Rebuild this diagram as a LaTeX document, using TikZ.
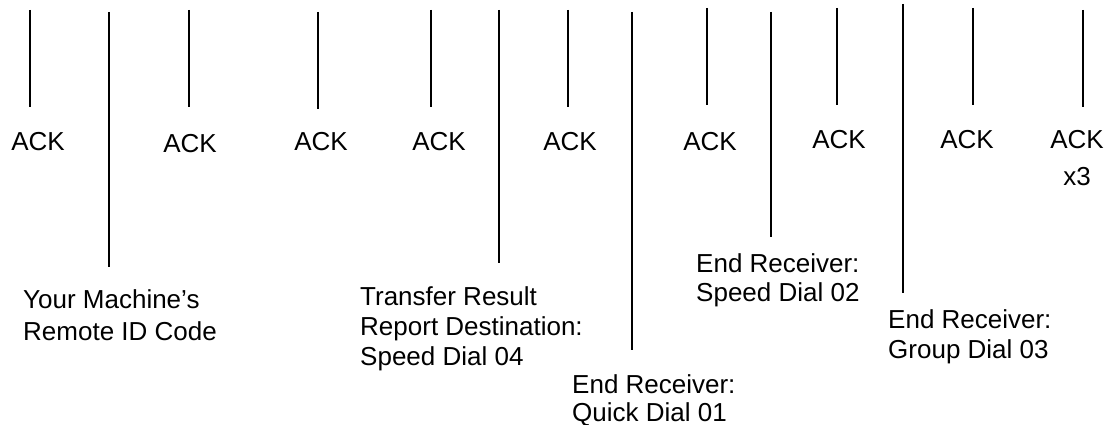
\documentclass[tikz,border=0pt]{standalone}
\usepackage{fontspec}
\setmainfont{Liberation Sans}
\begin{document}
\begin{tikzpicture}[x=1pt,y=-1pt,
  tick/.style={line width=2.9pt},
  thintick/.style={line width=1.5pt},
  ack/.style={inner sep=0pt,anchor=base,font=\fontsize{26}{30}\selectfont},
  lbl/.style={inner sep=0pt,anchor=base west,align=left,font=\fontsize{26}{30}\selectfont}]
\useasboundingbox (0,0) rectangle (1110,425);
% line end points
\coordinate (t1) at (30,10);   \coordinate (b1) at (30,107);
\coordinate (t2) at (109,12);  \coordinate (b2) at (109,267);
\coordinate (t3) at (189,10);  \coordinate (b3) at (189,107);
\coordinate (t4) at (318,12);  \coordinate (b4) at (318,109);
\coordinate (t5) at (431,10);  \coordinate (b5) at (431,107);
\coordinate (t6) at (499,10);  \coordinate (b6) at (499,263);
\coordinate (t7) at (568,10);  \coordinate (b7) at (568,107);
\coordinate (t8) at (632,12);  \coordinate (b8) at (632,350);
\coordinate (t9) at (707,8);   \coordinate (b9) at (707,105);
\coordinate (t10) at (771,12); \coordinate (b10) at (771,237);
\coordinate (t11) at (837,8);  \coordinate (b11) at (837,105);
\coordinate (t12) at (903,4);  \coordinate (b12) at (903,293);
\coordinate (t13) at (973,8);  \coordinate (b13) at (973,105);
\coordinate (t14) at (1083,10);\coordinate (b14) at (1083,107);
\draw[tick] (t1) -- (b1);
\draw[thintick] (t2) -- (b2);
\draw[tick] (t3) -- (b3);
\draw[tick] (t4) -- (b4);
\draw[tick] (t5) -- (b5);
\draw[tick] (t6) -- (b6);
\draw[tick] (t7) -- (b7);
\draw[tick] (t8) -- (b8);
\draw[tick] (t9) -- (b9);
\draw[tick] (t10) -- (b10);
\draw[tick] (t11) -- (b11);
\draw[tick] (t12) -- (b12);
\draw[tick] (t13) -- (b13);
\draw[tick] (t14) -- (b14);
% ACK labels
\node[ack] (a1) at (38,150) {ACK};
\node[ack] (a2) at (190,152) {ACK};
\node[ack] (a3) at (321,150) {ACK};
\node[ack] (a4) at (439,150) {ACK};
\node[ack] (a5) at (570,150) {ACK};
\node[ack] (a6) at (710,150) {ACK};
\node[ack] (a7) at (839,148) {ACK};
\node[ack] (a8) at (967,148) {ACK};
\node[ack,align=center,font=\fontsize{26}{37}\selectfont] (a9) at (1077,185) {ACK\\x3};
% descriptive labels (base anchor = last line)
\node[lbl,font=\fontsize{26}{32}\selectfont] (l1) at (23,340) {Your Machine’s\\Remote ID Code};
\node[lbl] (l2) at (360,365) {Transfer Result\\Report Destination:\\Speed Dial 04};
\node[lbl,font=\fontsize{26}{28}\selectfont] (l3) at (572,421) {End Receiver:\\Quick Dial 01};
\node[lbl,font=\fontsize{26}{29}\selectfont] (l4) at (696,301) {End Receiver:\\Speed Dial 02};
\node[lbl] (l5) at (888,358) {End Receiver:\\Group Dial 03};
\end{tikzpicture}
\end{document}
